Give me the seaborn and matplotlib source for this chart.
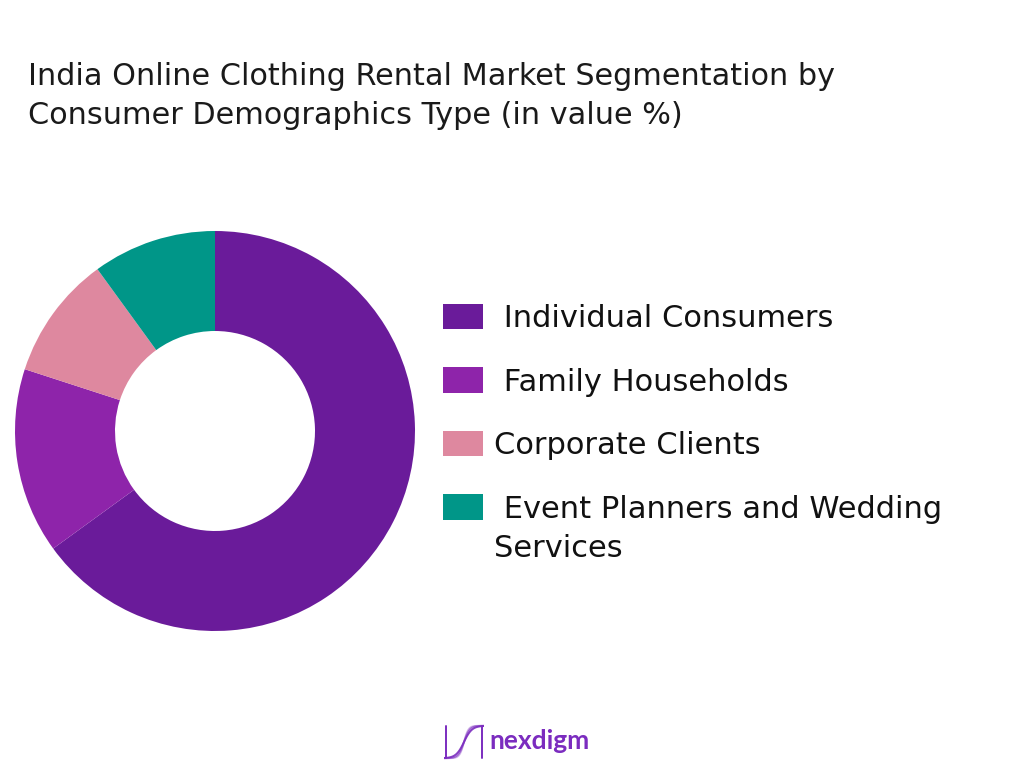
import matplotlib
matplotlib.use("Agg")
import matplotlib.pyplot as plt
import numpy as np
import seaborn as sns

# Chart data
segments = [
    " Individual Consumers",
    " Family Households",
    "Corporate Clients",
    " Event Planners and Wedding",
]
last_label_tail = "Services"
shares = [65, 15, 10, 10]
colors = ["#6A1B9A", "#8E24AA", "#DE889F", "#009688"]

title = ("India Online Clothing Rental Market Segmentation by\n"
         "Consumer Demographics Type (in value %)")

sns.set_theme(style="white")
plt.rcParams["font.family"] = ["DejaVu Sans"]

fig = plt.figure(figsize=(10.24, 7.68), dpi=100)
fig.patch.set_facecolor("white")

# 1. Donut
ax = fig.add_axes([15 / 1024, 137 / 768, 400 / 1024, 400 / 768])
wedges, _ = ax.pie(
    shares,
    colors=colors,
    startangle=90,
    counterclock=False,
    radius=1.0,
    wedgeprops=dict(width=0.5, edgecolor="none"),
)
ax.set_xlim(-1, 1)
ax.set_ylim(-1, 1)
ax.set_aspect("equal")
ax.axis("off")

# 2. Legend
leg = fig.legend(
    wedges,
    segments,
    loc="upper left",
    bbox_to_anchor=(443 / 1024, 1 - 304 / 768),
    frameon=False,
    fontsize=22,
    handlelength=1.3,
    handleheight=0.9,
    handletextpad=0.38,
    labelspacing=1.12,
    borderaxespad=0,
    borderpad=0,
)
for txt in leg.get_texts():
    txt.set_color("#111111")

# second line of the last label, placed under the first one
fig.canvas.draw()
renderer = fig.canvas.get_renderer()
last_bb = leg.get_texts()[-1].get_window_extent(renderer)
left_bb = leg.get_texts()[2].get_window_extent(renderer)
fig.text(left_bb.x0 / 1024, (last_bb.y0 - 10) / 768, last_label_tail,
         ha="left", va="top", fontsize=22, color="#111111")

# 3. Title
fig.text(28 / 1024, 1 - 62 / 768, title, ha="left", va="top",
         fontsize=21.8, color="#1a1a1a", linespacing=1.45)

# 4. Logo
lax = fig.add_axes([444 / 1024, 1 - 760 / 768, 40 / 1024, 36 / 768])
t = np.linspace(0, 1, 100)
for k, a in enumerate([0.9, 0.6, 0.35]):
    y = 0.5 + 0.45 * np.tanh((t - 0.5) * (5 + k * 2)) * -1
    lax.plot(t, 1 - y, color="#7B2CBF", alpha=a, lw=1.4)
lax.plot([0.05, 0.05], [0.05, 0.95], color="#7B2CBF", lw=1.4)
lax.plot([0.95, 0.95], [0.05, 0.95], color="#7B2CBF", lw=1.4)
lax.set_xlim(0, 1)
lax.set_ylim(0, 1)
lax.axis("off")
fig.text(489 / 1024, 1 - 741 / 768, "nexdigm", ha="left", va="center",
         fontsize=19, fontweight="bold", color="#7B2CBF",
         family=["Lato", "DejaVu Sans"])

fig.savefig("out.png", dpi=100, facecolor="white")
